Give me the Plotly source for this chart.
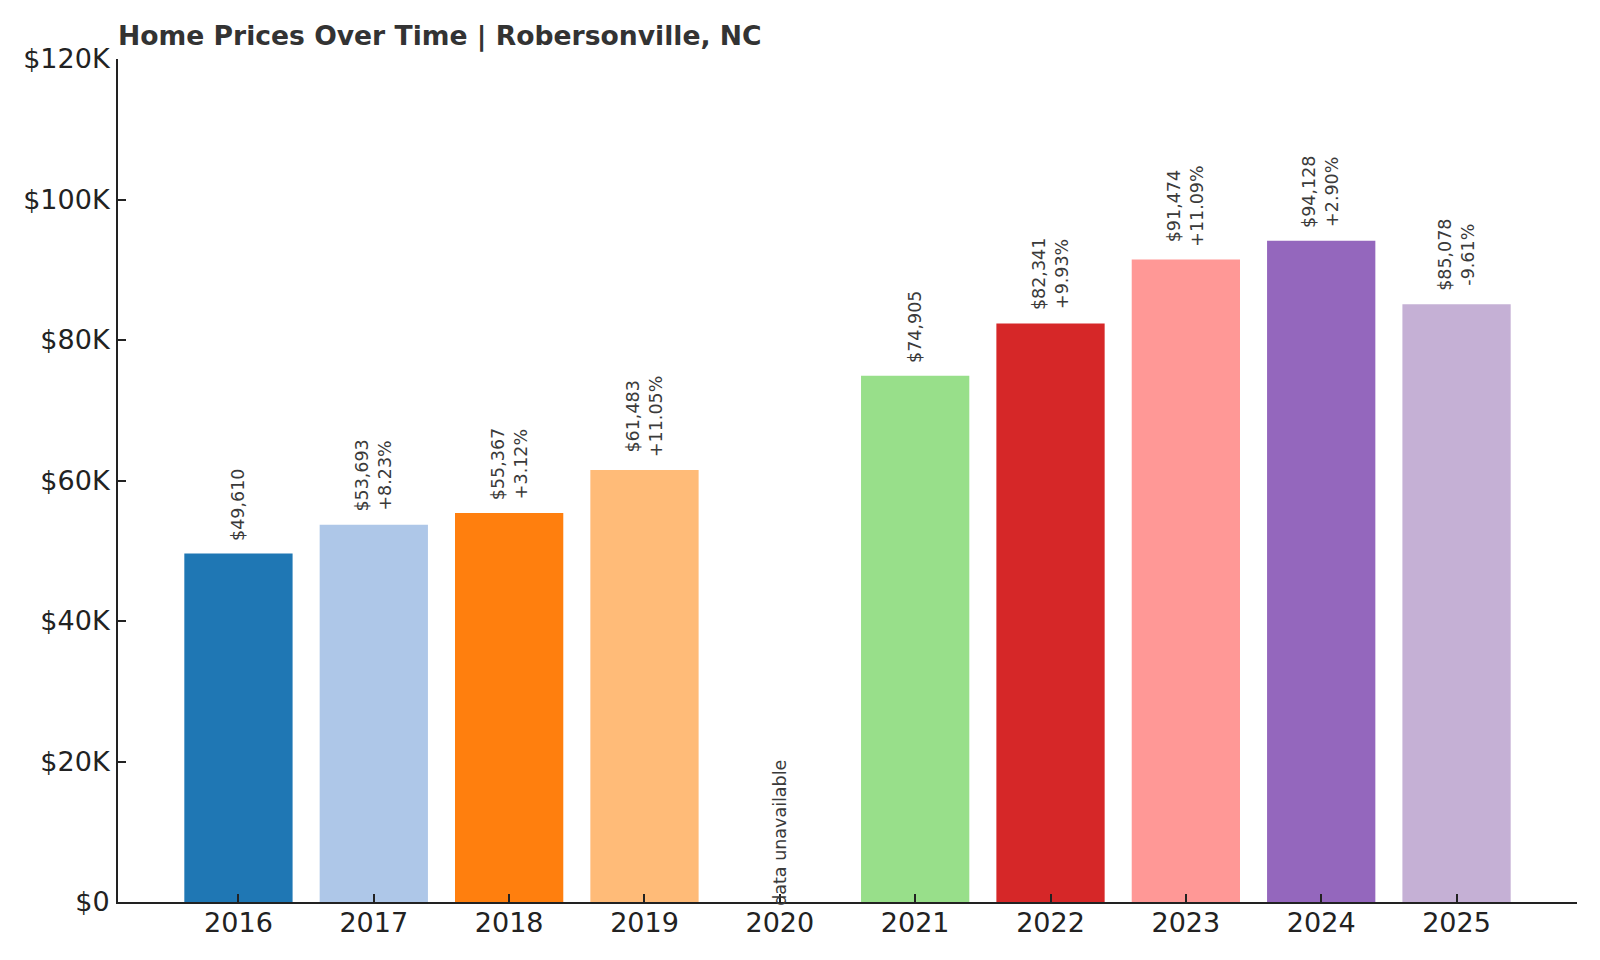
import plotly.graph_objects as go

# === Data ===
years = ["2016", "2017", "2018", "2019", "2020", "2021", "2022", "2023", "2024", "2025"]
prices = [49610, 53693, 55367, 61483, None, 74905, 82341, 91474, 94128, 85078]
changes = [None, "+8.23%", "+3.12%", "+11.05%", None, None, "+9.93%", "+11.09%", "+2.90%", "-9.61%"]
bar_colors = ["#1f77b4", "#aec7e8", "#ff7f0e", "#ffbb78", "#2ca02c",
              "#98df8a", "#d62728", "#ff9896", "#9467bd", "#c5b0d5"]
y_ticks = [0, 20000, 40000, 60000, 80000, 100000, 120000]
y_tick_labels = ["$0", "$20K", "$40K", "$60K", "$80K", "$100K", "$120K"]

FONT = "DejaVu Sans"
xpos = list(range(len(years)))

fig = go.Figure()
fig.add_trace(go.Bar(
    x=xpos,
    y=prices,
    width=0.8,
    marker=dict(color=bar_colors, line=dict(width=0)),
    hovertext=years,
))

# === Value labels above bars ===
for i, price, chg in zip(xpos, prices, changes):
    if price is None:
        fig.add_annotation(
            x=i, y=0, text="data unavailable", textangle=-90,
            showarrow=False, xanchor="center", yanchor="bottom", yshift=-6,
            font=dict(family=FONT, size=17.5, color="#3a3a3a"),
        )
        continue
    label = f"${price:,.0f}"
    if chg:
        label += f"<br>{chg}"
    fig.add_annotation(
        x=i, y=price, text=label, textangle=-90,
        showarrow=False, xanchor="center", yanchor="bottom", yshift=11,
        align="center",
        font=dict(family=FONT, size=17.5, color="#3a3a3a"),
    )

fig.update_layout(
    width=1600, height=960,
    margin=dict(l=110, r=31, t=51, b=66),
    paper_bgcolor="white", plot_bgcolor="white",
    showlegend=False,
    font=dict(family=FONT, color="#222222"),
    title=dict(
        text="<b>Home Prices Over Time | Robersonville, NC</b>",
        x=110 / 1600, xanchor="left", xref="container",
        y=1 - 28 / 960, yanchor="middle", yref="container",
        font=dict(family=FONT, size=26.6, color="#333333"),
    ),
)
fig.update_xaxes(
    range=[-0.89, 9.89], tickvals=xpos, ticktext=years,
    showline=True, linecolor="#222222", linewidth=2,
    ticks="inside", ticklen=8, tickwidth=1.5, tickcolor="#222222",
    tickfont=dict(family=FONT, size=27, color="#222222"),
    ticklabelstandoff=-4,
    showgrid=False, zeroline=False,
)
fig.update_yaxes(
    range=[0, 120000], tickvals=y_ticks, ticktext=y_tick_labels,
    showline=True, linecolor="#222222", linewidth=2,
    ticks="inside", ticklen=8, tickwidth=1.5, tickcolor="#222222",
    tickfont=dict(family=FONT, size=27, color="#222222"),
    ticklabelstandoff=1,
    showgrid=False, zeroline=False,
)

fig.write_html("out.html")
